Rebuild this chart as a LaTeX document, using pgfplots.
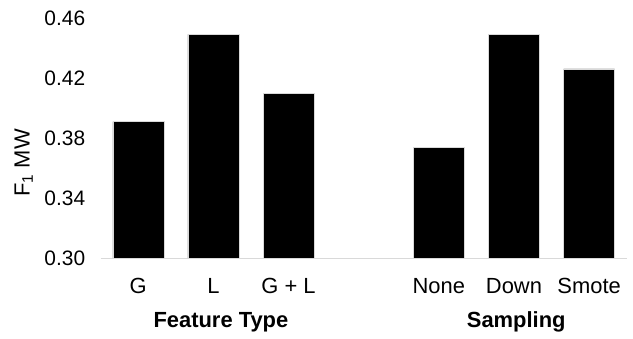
\documentclass[border=0pt]{standalone}
\usepackage{pgfplots}
\pgfplotsset{compat=1.18}
\usepackage{fontspec}
\setmainfont{Liberation Sans}
\begin{document}
\begin{tikzpicture}
\path[use as bounding box] (-100.7bp,-81bp) rectangle (532.3bp,258bp);
\begin{axis}[
  at={(0,0)}, anchor=south west,
  scale only axis, width=526bp, height=240bp,
  xmin=-0.5, xmax=6.5, ymin=0.30, ymax=0.46,
  ytick={0.30,0.34,0.38,0.42,0.46},
  yticklabel style={/pgf/number format/fixed, /pgf/number format/fixed zerofill, /pgf/number format/precision=2, font=\fontsize{21}{21}\selectfont, xshift=-12bp},
  /pgf/number format/assume math mode=true,
  xtick={0,1,2,4,5,6},
  xticklabels={G,L,G + L,None,Down,Smote},
  xticklabel style={font=\fontsize{22}{22}\selectfont, yshift=-17bp},
  axis lines*=left,
  y axis line style={draw=none},
  x axis line style={draw=black!15, line width=1bp},
  axis line style={-},
  major tick length=0pt,
  tick style={draw=none},
  clip=false,
]
\addplot[ybar, bar width=51bp, fill=black, draw=white!85!black, line width=0.5bp]
  coordinates {(0,0.391) (1,0.449) (2,0.4095) (4,0.374) (5,0.449) (6,0.426)};
\node[anchor=base, font=\bfseries\fontsize{22}{22}\selectfont, yshift=-69bp] at (axis cs:1.1,0.30) {Feature Type};
\node[anchor=base, font=\bfseries\fontsize{22}{22}\selectfont, yshift=-69bp] at (axis cs:5.03,0.30) {Sampling};
\node[rotate=90, font=\fontsize{22}{22}\selectfont] at (axis description cs:-0.1464,0.396) {F\textsubscript{1} MW};
\end{axis}
\end{tikzpicture}
\end{document}
